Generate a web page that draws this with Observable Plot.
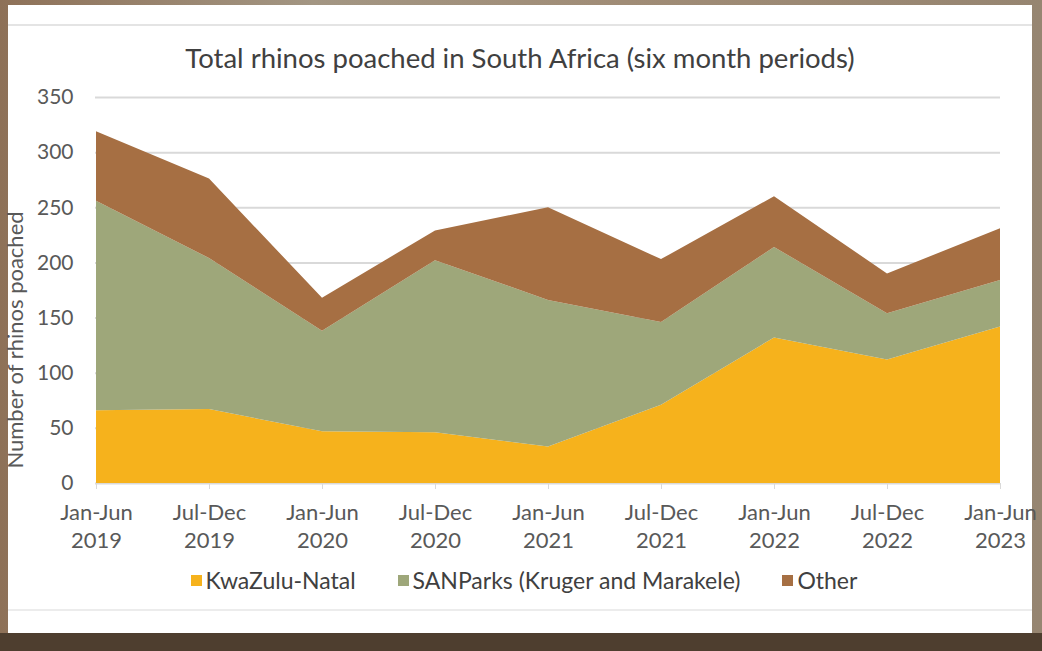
<!DOCTYPE html>
<html>
<head>
<meta charset="utf-8">
<script src="https://cdn.jsdelivr.net/npm/d3@7"></script>
<script src="https://cdn.jsdelivr.net/npm/@observablehq/plot@0.6"></script>
<style>
  html, body { margin: 0; padding: 0; }
  body {
    width: 1042px; height: 651px; position: relative; overflow: hidden;
    background: linear-gradient(90deg, #8e7158 0%, #a39683 30%, #a08c76 60%, #968571 100%);
    font-family: Lato, "Open Sans", sans-serif;
  }
  #card { position: absolute; left: 8px; top: 5px; width: 1024px; height: 628px; background: #fff; }
  #topline { position: absolute; left: 8px; top: 24px; width: 1024px; height: 2px; background: #e4e4e4; }
  #botline { position: absolute; left: 8px; top: 609px; width: 1024px; height: 2px; background: #ececec; }
  #band { position: absolute; left: 0; top: 633px; width: 1042px; height: 18px; background: #4e3e2f; }
  #title { position: absolute; left: 8px; width: 1024px; top: 41px; text-align: center; font-size: 27.5px; color: #404040; }
  #ylab { position: absolute; left: 14px; top: 340px; transform: translate(-50%, -50%) rotate(-90deg); font-size: 22px; color: #595959; white-space: nowrap; }
  #chart { position: absolute; left: 0; top: 0; }
  #legend { position: absolute; left: 0; width: 1048px; top: 566px; display: flex; justify-content: center; font-size: 23px; color: #404040; }
  .item { display: flex; align-items: center; margin: 0 21px; }
  .sw { width: 11px; height: 11px; margin-right: 4px; }
</style>
</head>
<body>
<div id="card"></div>
<div id="topline"></div>
<div id="botline"></div>
<div id="band"></div>
<div id="title">Total rhinos poached in South Africa (six month periods)</div>
<div id="chart"></div>
<div id="ylab">Number of rhinos poached</div>
<div id="legend"></div>
<script>
const periods = ["Jan-Jun 2019", "Jul-Dec 2019", "Jan-Jun 2020", "Jul-Dec 2020", "Jan-Jun 2021", "Jul-Dec 2021", "Jan-Jun 2022", "Jul-Dec 2022", "Jan-Jun 2023"];
const seriesNames = ["KwaZulu-Natal", "SANParks (Kruger and Marakele)", "Other"];
const kwazuluNatal = [66, 67, 47, 46, 33, 71, 132, 112, 142];
const sanParks = [190, 137, 91, 156, 133, 75, 82, 42, 42];
const other = [63, 72, 30, 27, 84, 57, 46, 36, 47];
const yTicks = [0, 50, 100, 150, 200, 250, 300, 350];
const colors = ["#f6b21c", "#9ea77a", "#a66f43"];

const seriesValues = [kwazuluNatal, sanParks, other];
const data = [];
seriesNames.forEach((s, i) => periods.forEach((p, j) => data.push({series: s, period: p, value: seriesValues[i][j]})));

const plot = Plot.plot({
  width: 1042,
  height: 560,
  marginLeft: 95,
  marginRight: 42,
  marginTop: 97,
  marginBottom: 77,
  style: {fontFamily: "Lato, 'Open Sans', sans-serif", fontSize: "21px", color: "#595959", background: "transparent"},
  x: {type: "point", domain: periods, padding: 0},
  y: {domain: [0, 350]},
  color: {domain: seriesNames, range: colors},
  marks: [
    Plot.gridY(yTicks, {stroke: "#d9d9d9", strokeOpacity: 1, strokeWidth: 2}),
    Plot.areaY(data, {x: "period", y: "value", z: "series", fill: "series", order: seriesNames}),
    Plot.axisY(yTicks, {tickSize: 0, tickPadding: 22, fontSize: 21, label: null}),
    Plot.axisX({tickSize: 6, tickPadding: 10, stroke: "#d9d9d9", fontSize: 22, lineHeight: 1.28, label: null,
      tickFormat: d => d.replace(" ", "\n")})
  ]
});
document.getElementById("chart").appendChild(plot);

const legend = document.getElementById("legend");
seriesNames.forEach((s, i) => {
  const it = document.createElement("div");
  it.className = "item";
  it.innerHTML = `<span class="sw" style="background:${colors[i]}"></span><span>${s}</span>`;
  legend.appendChild(it);
});
</script>
</body>
</html>
